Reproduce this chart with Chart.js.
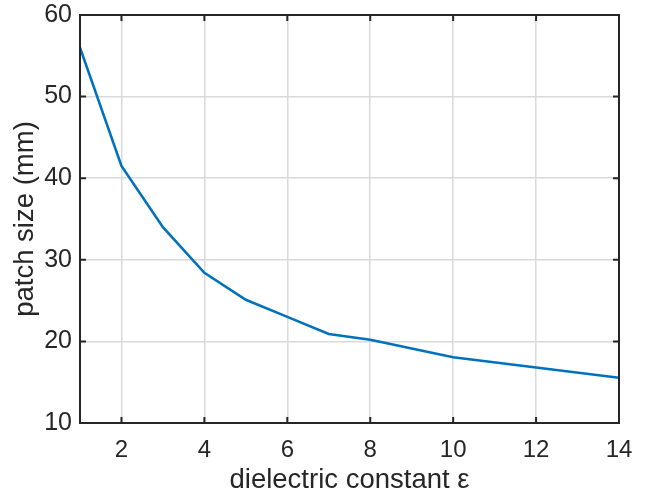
<!DOCTYPE html>
<html lang="en">
<head>
  <meta charset="UTF-8" />
  <title>Patch size vs dielectric constant</title>
  <script src="https://cdn.jsdelivr.net/npm/chart.js"></script>
  <style>
    html, body { margin: 0; padding: 0; background: #fff; }
    #wrap { width: 648px; height: 497px; }
  </style>
</head>
<body>
  <div id="wrap"><canvas id="patchChart"></canvas></div>

  <script>
    // values
    const epsValues = [1, 2, 3, 4, 5, 6, 7, 8, 10, 12, 14];
    const patchSize = [56, 41.5, 34, 28.4, 25.1, 23, 20.9, 20.2, 18.05, 16.8, 15.55];
    const xTicks = [2, 4, 6, 8, 10, 12, 14];
    const yTicks = [10, 20, 30, 40, 50, 60];

    const axisColor = '#262626';
    const fontFamily = "'Liberation Sans', Arial, Helvetica, sans-serif";

    // MATLAB-style box with inward tick marks
    const boxPlugin = {
      id: 'boxPlugin',
      afterDraw(chart) {
        const { ctx, chartArea: a, scales } = chart;
        ctx.save();
        ctx.strokeStyle = axisColor;
        ctx.lineWidth = 2;
        ctx.beginPath();
        xTicks.forEach(v => {
          const px = scales.x.getPixelForValue(v);
          ctx.moveTo(px, a.bottom); ctx.lineTo(px, a.bottom - 6);
          ctx.moveTo(px, a.top); ctx.lineTo(px, a.top + 6);
        });
        yTicks.forEach(v => {
          const py = scales.y.getPixelForValue(v);
          ctx.moveTo(a.left, py); ctx.lineTo(a.left + 6, py);
          ctx.moveTo(a.right, py); ctx.lineTo(a.right - 6, py);
        });
        ctx.stroke();
        ctx.strokeRect(a.left, a.top, a.right - a.left, a.bottom - a.top);
        ctx.restore();
      }
    };

    const ctx = document.getElementById('patchChart').getContext('2d');
    new Chart(ctx, {
      type: 'line',
      data: {
        datasets: [{
          data: epsValues.map((x, i) => ({ x, y: patchSize[i] })),
          borderColor: '#0072BD',
          borderWidth: 2.6,
          pointRadius: 0,
          tension: 0,
          fill: false
        }]
      },
      options: {
        responsive: true,
        maintainAspectRatio: false,
        animation: false,
        layout: { padding: { top: 15, right: 29, left: 0, bottom: 0 } },
        plugins: {
          legend: { display: false },
          tooltip: { enabled: false }
        },
        scales: {
          x: {
            type: 'linear',
            min: 1,
            max: 14,
            afterBuildTicks: s => { s.ticks = xTicks.map(v => ({ value: v })); },
            afterFit: s => { s.height = 74; },
            grid: { color: '#d9d9d9', lineWidth: 1.5, drawTicks: false },
            border: { display: false },
            ticks: {
              color: axisColor,
              padding: 13,
              maxRotation: 0,
              font: { family: fontFamily, size: 24 }
            },
            title: {
              display: true,
              text: 'dielectric constant ε',
              color: axisColor,
              padding: { top: 2, bottom: 0 },
              font: { family: fontFamily, size: 27.5 }
            }
          },
          y: {
            min: 10,
            max: 60,
            afterBuildTicks: s => { s.ticks = yTicks.map(v => ({ value: v })); },
            afterFit: s => {
              s.width = 80;
              s.paddingTop = 0;
              s.paddingBottom = 0;
            },
            grid: { color: '#d9d9d9', lineWidth: 1.5, drawTicks: false },
            border: { display: false },
            ticks: {
              color: axisColor,
              padding: 8,
              font: { family: fontFamily, size: 25 }
            },
            title: {
              display: true,
              text: 'patch size (mm)',
              color: axisColor,
              padding: { top: 9, bottom: 0 },
              font: { family: fontFamily, size: 27.5 }
            }
          }
        }
      },
      plugins: [boxPlugin]
    });
  </script>
</body>
</html>
